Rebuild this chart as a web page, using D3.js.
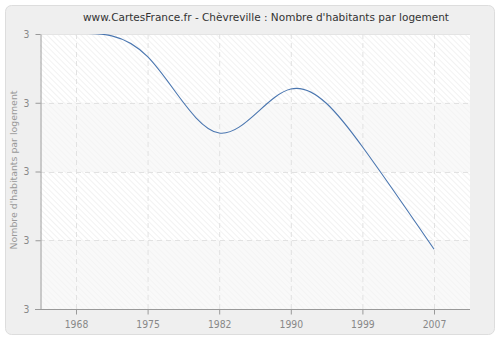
<!DOCTYPE html>
<html><head><meta charset="utf-8">
<script src="https://cdn.jsdelivr.net/npm/d3@7"></script>
<style>body{margin:0;background:#fff;}svg{display:block;font-family:"DejaVu Sans",Verdana,sans-serif;}</style>
</head><body>
<svg id="c" width="500" height="340"></svg>
<script>
const title = "www.CartesFrance.fr - Chèvreville : Nombre d'habitants par logement";
const yTitle = "Nombre d'habitants par logement";
const years = ["1968","1975","1982","1990","1999","2007"];
const values = [3.2008, 3.167, 3.056, 3.12, 3.036, 2.887];
const yTicks = [2.8, 2.9, 3.0, 3.1, 3.2];

const svg = d3.select("#c");
const m = {l:40, r:470, t:34, b:309};

const defs = svg.append("defs");
const pat = defs.append("pattern").attr("id","hatch").attr("patternUnits","userSpaceOnUse")
  .attr("width",4).attr("height",4).attr("patternTransform","rotate(-45)");
pat.append("rect").attr("width",4).attr("height",4).attr("fill","#ffffff");
pat.append("line").attr("x1",0).attr("y1",0).attr("x2",0).attr("y2",4).attr("stroke","#eeeeee").attr("stroke-width",1.5);
const pat2 = defs.append("pattern").attr("id","hatch2").attr("patternUnits","userSpaceOnUse")
  .attr("width",4).attr("height",4).attr("patternTransform","rotate(-45)");
pat2.append("rect").attr("width",4).attr("height",4).attr("fill","#f9f9f9");
pat2.append("line").attr("x1",0).attr("y1",0).attr("x2",0).attr("y2",4).attr("stroke","#f3f3f3").attr("stroke-width",1.5);
defs.append("clipPath").attr("id","clip").append("rect")
  .attr("x",m.l).attr("y",m.t).attr("width",m.r-m.l).attr("height",m.b-m.t);

svg.append("rect").attr("x",5.5).attr("y",5.5).attr("width",489).attr("height",329).attr("rx",6)
  .attr("fill","#efefef").attr("stroke","#dddddd");

const x = d3.scalePoint().domain(years).range([76,434]);
const y = d3.scaleLinear().domain([2.8,3.2]).range([m.b,m.t]);

// bands
const bands = d3.pairs(yTicks);
svg.append("g").selectAll("rect").data(bands).join("rect")
  .attr("x",m.l).attr("width",m.r-m.l)
  .attr("y",d=>y(d[1])).attr("height",d=>y(d[0])-y(d[1]))
  .attr("fill",(d,i)=> i%2===0 ? "url(#hatch2)" : "url(#hatch)");
svg.append("line").attr("x1",m.l).attr("x2",m.r).attr("y1",m.t+0.5).attr("y2",m.t+0.5).attr("stroke","#e4e4e4");

// grid
const grid = svg.append("g").attr("stroke","#e2e2e2").attr("stroke-dasharray","5,4");
grid.selectAll(".v").data(years).join("line")
  .attr("x1",d=>x(d)+0.5).attr("x2",d=>x(d)+0.5).attr("y1",m.t).attr("y2",m.b);
grid.selectAll(".h").data(yTicks.slice(0,-1)).join("line")
  .attr("x1",m.l).attr("x2",m.r).attr("y1",d=>Math.round(y(d))+0.5).attr("y2",d=>Math.round(y(d))+0.5);

// line
svg.append("path").datum(values.map((v,i)=>[years[i],v]))
  .attr("clip-path","url(#clip)")
  .attr("fill","none").attr("stroke","#4a76b0").attr("stroke-width",1.1)
  .attr("d", d3.line().x(d=>x(d[0])).y(d=>y(d[1])).curve(d3.curveNatural));

// axes
const fmt = d3.format(".0f");
const yAxis = svg.append("g").attr("transform",`translate(${m.l+0.5},0)`)
  .call(d3.axisLeft(y).tickValues(yTicks).tickFormat(fmt).tickSize(5).tickSizeOuter(0));
const xAxis = svg.append("g").attr("transform",`translate(0,${m.b+0.5})`)
  .call(d3.axisBottom(x).tickSize(5).tickSizeOuter(0));
xAxis.select(".domain").attr("d",`M${m.l-5},0H${m.r}`);
[yAxis,xAxis].forEach(a=>{
  a.select(".domain").attr("stroke","#999");
  a.selectAll(".tick line").attr("stroke","#999");
  a.selectAll("text").attr("fill","#888").attr("font-size",10.3).attr("font-family","DejaVu Sans Condensed, DejaVu Sans, sans-serif");
});
yAxis.selectAll("text").attr("dx","-3");
xAxis.selectAll("text").attr("dy","1.05em");

svg.append("text").attr("x",266).attr("y",21).attr("text-anchor","middle")
  .attr("font-size",10.5).attr("fill","#333").text(title);
svg.append("text").attr("transform","translate(17,170) rotate(-90)").attr("text-anchor","middle")
  .attr("font-size",9.4).attr("fill","#999").text(yTitle);
</script>
</body></html>
